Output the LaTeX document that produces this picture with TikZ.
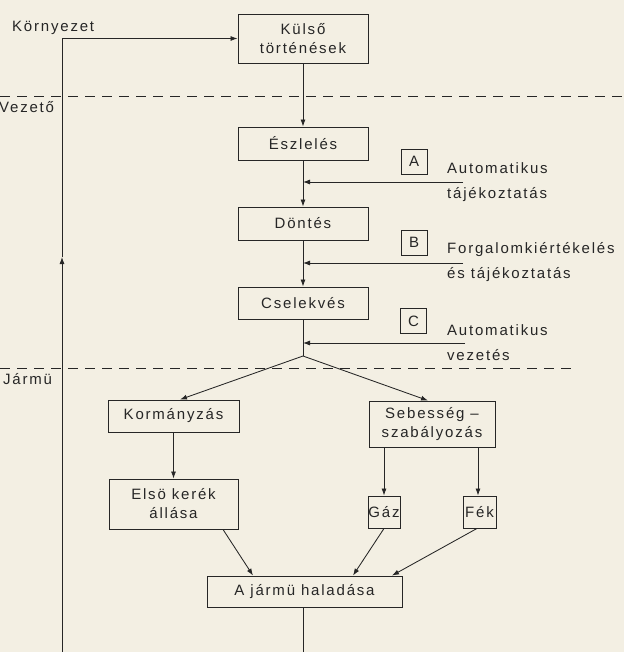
\documentclass[tikz,border=0pt]{standalone}
\usepackage{fontspec}
\setmainfont[LetterSpace=12]{Liberation Sans}
\usetikzlibrary{arrows.meta}
\definecolor{paper}{HTML}{F3EFE3}
\definecolor{ink}{HTML}{262626}
\begin{document}
\begin{tikzpicture}[x=1pt,y=-1pt,
  every node/.style={text=ink, font=\fontsize{15}{19}\selectfont},
  box/.style={draw=ink, line width=0.9pt, inner sep=0pt, align=center},
  lbl/.style={draw=ink, line width=0.9pt, inner sep=0pt, minimum width=26pt, minimum height=25pt},
  side/.style={anchor=west, inner sep=0pt, align=left, font=\fontsize{15}{25}\selectfont},
  zone/.style={anchor=base west, inner sep=0pt},
  conn/.style={draw=ink, line width=0.85pt},
  arr/.style={conn, -{Latex[length=7pt,width=5pt]}},
  dashline/.style={draw=ink, line width=0.85pt, dash pattern=on 10pt off 7pt}]
\useasboundingbox (0,0) rectangle (624,652);
\fill[paper] (0,0) rectangle (624,652);

% zone labels and separators
\node[zone] (env) at (12,32) {Környezet};
\node[zone] (drv) at (-1,113) {Vezető};
\node[zone] (veh) at (3,384) {Jármü};
\draw[dashline] (0,96) -- (624,96);
\draw[dashline] (0,368) -- (575,368);

% main column
\node[box, minimum width=130pt, minimum height=49pt] (kulso) at (303,38.5) {Külső\\történések};
\node[box, minimum width=130pt, minimum height=33pt] (eszl) at (303,143.5) {Észlelés};
\node[box, minimum width=130pt, minimum height=33pt] (dont) at (303,223.5) {Döntés};
\node[box, minimum width=130pt, minimum height=32pt] (csel) at (303,303) {Cselekvés};

% automation inputs
\node[lbl] (A) at (414,161.5) {A};
\node[lbl] (B) at (414,242.5) {B};
\node[lbl] (C) at (413.5,321) {C};
\node[side] (tA) at (447,182.5) {Automatikus\\tájékoztatás};
\node[side] (tB) at (447,262.5) {Forgalomkiértékelés\\és tájékoztatás};
\node[side] (tC) at (447,342.5) {Automatikus\\vezetés};

% vehicle part
\node[box, minimum width=131pt, minimum height=32pt] (korm) at (173.5,416) {Kormányzás};
\node[box, minimum width=126pt, minimum height=46pt] (sebes) at (432,424) {Sebesség –\\szabályozás};
\node[box, minimum width=129pt, minimum height=50pt] (elso) at (173.5,504) {Elsö kerék\\állása};
\node[box, minimum width=32pt, minimum height=32pt] (gaz) at (384,512) {Gáz};
\node[box, minimum width=33pt, minimum height=32pt] (fek) at (479.5,512) {Fék};
\node[box, minimum width=195pt, minimum height=31pt] (halad) at (304.5,591.5) {A jármü haladása};

% coordinates
\coordinate (aE) at (463,182);
\coordinate (aJ) at (303,182);
\coordinate (bE) at (463,263);
\coordinate (bJ) at (303,263);
\coordinate (cE) at (465,343);
\coordinate (cJ) at (303,343);
\coordinate (br) at (303,356);
\coordinate (fbB) at (62,652);
\coordinate (fbM) at (62,257);
\coordinate (hb) at (303,652);

% connectors
\draw[arr] (kulso.south) -- (eszl.north);
\draw[arr] (eszl.south) -- (dont.north);
\draw[arr] (dont.south) -- (csel.north);
\draw[arr] (aE) -- (aJ);
\draw[arr] (bE) -- (bJ);
\draw[arr] (cE) -- (cJ);
\draw[conn] (csel.south) -- (br);
\draw[arr] (br) -- ([xshift=6.5pt]korm.north);
\draw[arr] (br) -- ([xshift=-4pt]sebes.north);
\draw[arr] (korm.south) -- (elso.north);
\draw[arr] (gaz.north |- sebes.south) -- (gaz.north);
\draw[arr] ([xshift=-1.5pt]fek.north |- sebes.south) -- ([xshift=-1.5pt]fek.north);
\draw[arr] ([xshift=49.5pt]elso.south) -- ([xshift=-51.5pt]halad.north);
\draw[arr] (gaz.south) -- ([xshift=48.5pt]halad.north);
\draw[arr] ([xshift=-2.5pt]fek.south) -- ([xshift=87.5pt]halad.north);
\draw[conn] ([xshift=-1.5pt]halad.south) -- (hb);
\draw[arr] (fbB) -- (fbM);
\draw[arr] (fbM) |- (kulso.west);
\end{tikzpicture}
\end{document}
